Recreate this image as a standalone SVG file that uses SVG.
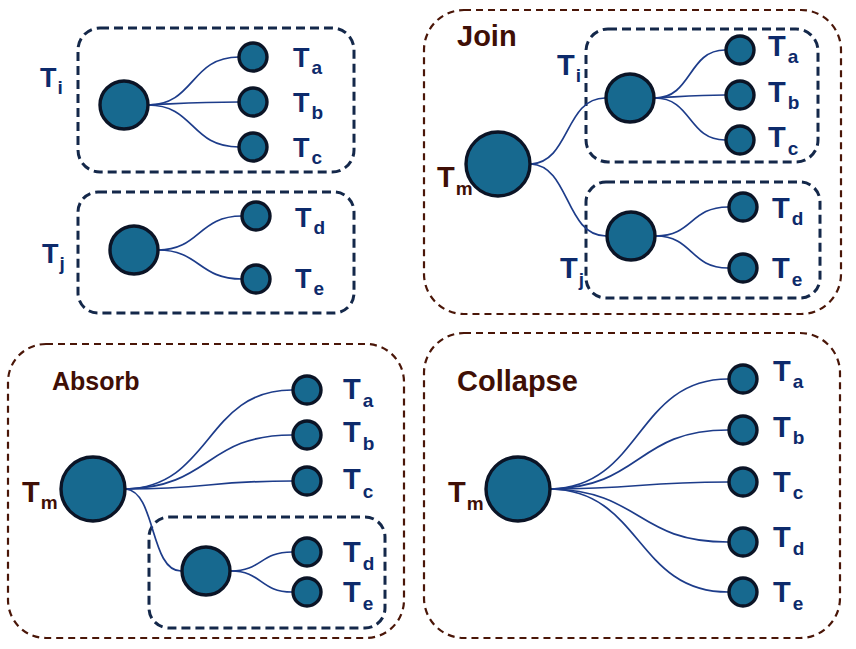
<svg xmlns="http://www.w3.org/2000/svg" width="856" height="649" viewBox="0 0 856 649">
<style>
.bg{fill:#ffffff}
.outer{fill:none;stroke:#4a1608;stroke-width:2.2;stroke-dasharray:7 5}
.inner{fill:none;stroke:#14284a;stroke-width:3;stroke-dasharray:9 5}
.ln{fill:none;stroke:#1d3c8a;stroke-width:1.7}
.nd{fill:#17698f;stroke:#0b1426;stroke-width:3.4}
.lb{font-family:"Liberation Sans",Arial,sans-serif;font-weight:bold;font-size:29px;fill:#0d2a6b}
.lbs{font-family:"Liberation Sans",Arial,sans-serif;font-weight:bold;font-size:27px;fill:#0d2a6b}
.br{fill:#3f0f06}
.sub{font-size:19px}
.ttl{font-family:"Liberation Sans",Arial,sans-serif;font-weight:bold;font-size:29px;fill:#3f0f06}
</style>
<rect class="bg" x="0" y="0" width="856" height="649"/>

<g id="boxes">
  <rect class="inner" x="78" y="28" width="276" height="144" rx="22"/>
  <rect class="inner" x="78" y="192" width="276" height="121" rx="20"/>
  <rect class="outer" x="424" y="10" width="417" height="304" rx="40"/>
  <rect class="inner" x="586" y="29" width="232" height="133" rx="22"/>
  <rect class="inner" x="586" y="182" width="234" height="116" rx="20"/>
  <rect class="outer" x="8" y="344" width="396" height="294" rx="38"/>
  <rect class="inner" x="149" y="517" width="236" height="111" rx="20"/>
  <rect class="outer" x="424" y="333" width="416" height="305" rx="40"/>
</g>

<g id="titles">
  <text class="ttl" x="457" y="46">Join</text>
  <text class="ttl" x="52" y="390" style="font-size:25px">Absorb</text>
  <text class="ttl" x="457" y="391">Collapse</text>
</g>

<g id="connectors">
  <path class="ln" d="M148,105 C195,105 190,57 239,57"/>
  <path class="ln" d="M148,105 C190,103 200,102 239,102"/>
  <path class="ln" d="M148,105 C195,105 190,147 239,147"/>
  <path class="ln" d="M158,250 C200,250 198,216 242,216"/>
  <path class="ln" d="M158,250 C200,250 198,279 242,279"/>
  <path class="ln" d="M531,164 C570,162 565,98 605,98"/>
  <path class="ln" d="M531,164 C570,166 565,236 606,236"/>
  <path class="ln" d="M655,98 C692,98 688,50 725,50"/>
  <path class="ln" d="M655,98 C690,96 700,95 725,95"/>
  <path class="ln" d="M655,98 C692,98 688,140 725,140"/>
  <path class="ln" d="M656,236 C693,236 690,207 728,207"/>
  <path class="ln" d="M656,236 C693,236 690,268 728,268"/>
  <path class="ln" d="M126,489 C212,487 205,390 292,390"/>
  <path class="ln" d="M126,489 C212,487 205,435 292,435"/>
  <path class="ln" d="M126,489 C212,489 205,481 292,481"/>
  <path class="ln" d="M126,489 C156,492 150,571 181,571"/>
  <path class="ln" d="M231,571 C262,571 260,552 292,552"/>
  <path class="ln" d="M231,571 C262,571 260,592 292,592"/>
  <path class="ln" d="M551,489 C642,487 636,379 728,379"/>
  <path class="ln" d="M551,489 C642,487 636,430 728,430"/>
  <path class="ln" d="M551,489 C642,489 636,482 728,482"/>
  <path class="ln" d="M551,489 C642,491 636,542 728,542"/>
  <path class="ln" d="M551,489 C642,491 636,592 728,592"/>
</g>

<g id="tl-ti">
  <text class="lbs" x="40" y="87">T<tspan class="sub" dx="1" dy="7">i</tspan></text>
  <circle class="nd" cx="124" cy="105" r="24"/>
</g>
<g id="tl-ta"><circle class="nd" cx="253" cy="57" r="14"/><text class="lbs" x="293" y="67">T<tspan class="sub" dx="2" dy="7">a</tspan></text></g>
<g id="tl-tb"><circle class="nd" cx="253" cy="102" r="14"/><text class="lbs" x="293" y="112">T<tspan class="sub" dx="2" dy="7">b</tspan></text></g>
<g id="tl-tc"><circle class="nd" cx="253" cy="147" r="14"/><text class="lbs" x="293" y="157">T<tspan class="sub" dx="2" dy="7">c</tspan></text></g>
<g id="tl-tj">
  <text class="lbs" x="42" y="263">T<tspan class="sub" dx="1" dy="7">j</tspan></text>
  <circle class="nd" cx="134" cy="250" r="24"/>
</g>
<g id="tl-td"><circle class="nd" cx="256" cy="216" r="14"/><text class="lbs" x="295" y="227">T<tspan class="sub" dx="2" dy="7">d</tspan></text></g>
<g id="tl-te"><circle class="nd" cx="256" cy="279" r="14"/><text class="lbs" x="295" y="288">T<tspan class="sub" dx="2" dy="7">e</tspan></text></g>

<g id="join-tm">
  <text class="lb br" x="437" y="187">T<tspan class="sub" dx="1" dy="8">m</tspan></text>
  <circle class="nd" cx="498" cy="164" r="32"/>
</g>
<g id="join-ti">
  <text class="lb" x="557" y="75">T<tspan class="sub" dx="1" dy="7">i</tspan></text>
  <circle class="nd" cx="630" cy="98" r="24"/>
</g>
<g id="join-tj">
  <text class="lb" x="560" y="278">T<tspan class="sub" dx="1" dy="8">j</tspan></text>
  <circle class="nd" cx="631" cy="236" r="24"/>
</g>
<g id="join-ta"><circle class="nd" cx="740" cy="50" r="14"/><text class="lb" x="768" y="56">T<tspan class="sub" dx="2" dy="7">a</tspan></text></g>
<g id="join-tb"><circle class="nd" cx="740" cy="95" r="14"/><text class="lb" x="768" y="102">T<tspan class="sub" dx="2" dy="7">b</tspan></text></g>
<g id="join-tc"><circle class="nd" cx="740" cy="140" r="14"/><text class="lb" x="768" y="147">T<tspan class="sub" dx="2" dy="8">c</tspan></text></g>
<g id="join-td"><circle class="nd" cx="743" cy="207" r="14"/><text class="lb" x="772" y="218">T<tspan class="sub" dx="2" dy="7">d</tspan></text></g>
<g id="join-te"><circle class="nd" cx="743" cy="268" r="14"/><text class="lb" x="772" y="278">T<tspan class="sub" dx="2" dy="8">e</tspan></text></g>

<g id="abs-tm">
  <text class="lb br" x="22" y="502">T<tspan class="sub" dx="1" dy="7">m</tspan></text>
  <circle class="nd" cx="93" cy="489" r="32"/>
</g>
<g id="abs-ta"><circle class="nd" cx="307" cy="390" r="14"/><text class="lb" x="343" y="399">T<tspan class="sub" dx="2" dy="8">a</tspan></text></g>
<g id="abs-tb"><circle class="nd" cx="307" cy="435" r="14"/><text class="lb" x="343" y="442">T<tspan class="sub" dx="2" dy="8">b</tspan></text></g>
<g id="abs-tc"><circle class="nd" cx="307" cy="481" r="14"/><text class="lb" x="343" y="489">T<tspan class="sub" dx="2" dy="9">c</tspan></text></g>
<g id="abs-inner"><circle class="nd" cx="206" cy="571" r="24"/></g>
<g id="abs-td"><circle class="nd" cx="307" cy="552" r="14"/><text class="lb" x="343" y="562">T<tspan class="sub" dx="2" dy="8">d</tspan></text></g>
<g id="abs-te"><circle class="nd" cx="307" cy="592" r="14"/><text class="lb" x="343" y="602">T<tspan class="sub" dx="2" dy="8">e</tspan></text></g>

<g id="col-tm">
  <text class="lb br" x="448" y="502">T<tspan class="sub" dx="1" dy="8">m</tspan></text>
  <circle class="nd" cx="518" cy="489" r="32"/>
</g>
<g id="col-ta"><circle class="nd" cx="743" cy="379" r="14"/><text class="lb" x="773" y="381">T<tspan class="sub" dx="2" dy="7">a</tspan></text></g>
<g id="col-tb"><circle class="nd" cx="743" cy="430" r="14"/><text class="lb" x="773" y="437">T<tspan class="sub" dx="2" dy="7">b</tspan></text></g>
<g id="col-tc"><circle class="nd" cx="743" cy="482" r="14"/><text class="lb" x="773" y="492">T<tspan class="sub" dx="2" dy="7">c</tspan></text></g>
<g id="col-td"><circle class="nd" cx="743" cy="542" r="14"/><text class="lb" x="773" y="547">T<tspan class="sub" dx="2" dy="8">d</tspan></text></g>
<g id="col-te"><circle class="nd" cx="743" cy="592" r="14"/><text class="lb" x="773" y="602">T<tspan class="sub" dx="2" dy="8">e</tspan></text></g>
</svg>
